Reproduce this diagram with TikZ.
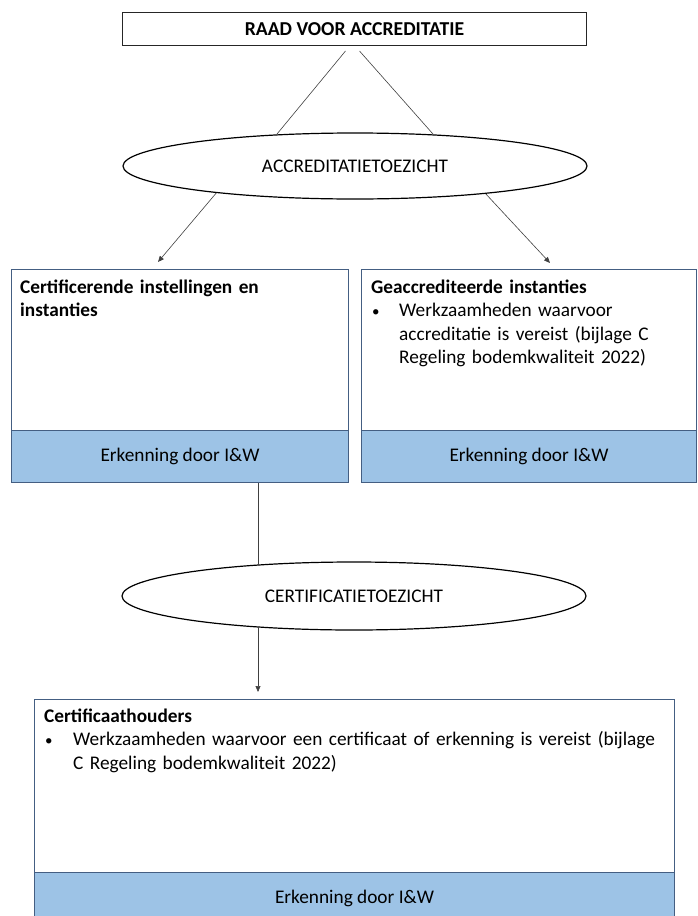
\documentclass[tikz,border=0pt]{standalone}
\usepackage{fontspec}
\setmainfont{Carlito}
\usetikzlibrary{shapes.geometric,arrows.meta}
\definecolor{bandblue}{RGB}{157,195,230}
\definecolor{boxline}{RGB}{68,94,130}
\newcommand{\smbullet}{\makebox[0pt][l]{\raisebox{0.5pt}{\fontsize{15}{15}\selectfont •}}}
\begin{document}
\begin{tikzpicture}[x=1pt,y=-1pt,
  every node/.style={font=\fontsize{19.3}{23.5}\selectfont, inner sep=0pt},
  wbox/.style={draw=boxline, line width=1pt, fill=white, anchor=north west},
  band/.style={draw=boxline, line width=1pt, fill=bandblue, anchor=north west},
  oval/.style={ellipse, draw=black, line width=1.2pt, fill=white},
  conn/.style={draw=black!75, line width=0.6pt},
  arr/.style={conn, -{Triangle[length=6pt,width=5pt]}},
  txt/.style={anchor=base west, align=left, text width=#1}]
\clip (0,0) rectangle (697,916);

% boxes
\node[wbox, draw=black!85, minimum width=464pt, minimum height=33pt,
      font=\bfseries\fontsize{19.7}{23.5}\selectfont] (top) at (122,12) {RAAD VOOR ACCREDITATIE};
\node[oval, minimum width=464pt, minimum height=66pt] (ell1) at (355,166) {ACCREDITATIETOEZICHT};

\node[wbox, minimum width=337pt, minimum height=161pt] (lbox) at (11,269) {};
\node[band, minimum width=337pt, minimum height=52pt] (lband) at (11,430) {Erkenning door I\&W};
\node[wbox, minimum width=335pt, minimum height=161pt] (rbox) at (361,269) {};
\node[band, minimum width=335pt, minimum height=52pt] (rband) at (361,430) {Erkenning door I\&W};

\node[oval, minimum width=464pt, minimum height=68pt] (ell2) at (354,596) {CERTIFICATIETOEZICHT};

\node[wbox, minimum width=640pt, minimum height=173pt] (bbox) at (34,699) {};
\node[band, minimum width=640pt, minimum height=52pt] (bband) at (34,872) {Erkenning door I\&W};

% texts
\node[txt=320pt] (ltxt) at (20,293) {\textbf{Certificerende instellingen en}\\\textbf{instanties}};
\node[txt=320pt] (rtxt) at (371,293) {\textbf{Geaccrediteerde instanties}\\
\hspace*{1pt}\smbullet\hspace*{27pt}Werkzaamheden waarvoor\\
\hspace*{28pt}accreditatie is vereist (bijlage C\\
\hspace*{28pt}Regeling bodemkwaliteit 2022)};
\node[txt=630pt] (btxt) at (44,722) {\textbf{Certificaathouders}\\
\hspace*{1pt}\smbullet\hspace*{28pt}Werkzaamheden waarvoor een certificaat of erkenning is vereist (bijlage\\
\hspace*{29pt}C Regeling bodemkwaliteit 2022)};

% connectors
\draw[conn] ([xshift=-9pt,yshift=-5pt]top.south) -- (ell1.158);
\draw[conn] ([xshift=5pt,yshift=-5pt]top.south) -- (ell1.22);
\draw[arr] (ell1.-169) -- ([xshift=-22pt,yshift=7pt]lbox.north);
\draw[arr] (ell1.-12) -- ([xshift=21pt,yshift=6pt]rbox.north);
\coordinate (vl) at ([xshift=78pt]lband.south);
\coordinate (bt) at ([yshift=7pt]bbox.north);
\draw[conn] (vl) -- (vl |- ell2.162);
\draw[arr] (vl |- ell2.198) -- (vl |- bt);
\end{tikzpicture}
\end{document}
